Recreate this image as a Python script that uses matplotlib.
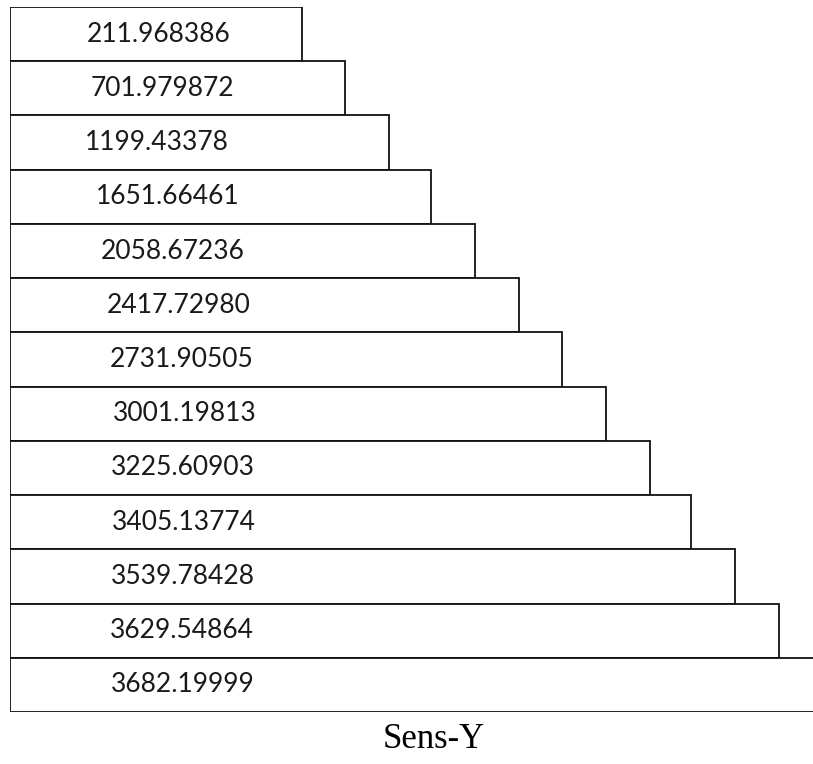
import matplotlib
matplotlib.use("Agg")
import matplotlib.pyplot as plt

# Sensitivity values along Y, one per stacked step
sens_values = [211.968386, 701.979872, 1199.43378, 1651.66461, 2058.67236,
               2417.72980, 2731.90505, 3001.19813, 3225.60903, 3405.13774,
               3539.78428, 3629.54864, 3682.19999]
# Drawn length of each step box (layout units)
step_lengths = [292, 335, 379, 421, 465, 509, 552, 596, 640, 681, 725, 769, 820]
# Horizontal centre of each value label (layout units)
label_x = [149, 152, 147, 158, 163, 169, 172, 175, 173, 174, 173, 172, 173]
title = "Sens-Y"

W, H = 813, 764
fig = plt.figure(figsize=(W / 100, H / 100), dpi=100)
fig.patch.set_facecolor("white")

ax = fig.add_axes([10 / W, (H - 712) / H, (W - 10) / W, 705 / H])
rows = list(range(len(sens_values)))
ax.barh(rows, step_lengths, height=1.0, left=0, color="white",
        edgecolor="#111111", linewidth=1.3)
for r, v, lx in zip(rows, sens_values, label_x):
    ax.text(lx, r, f"{v:#.9g}", ha="center", va="center",
            fontsize=19, family="Lato", color="#1a1a1a")

ax.set_xlim(0, W - 10)
ax.set_ylim(len(rows) - 0.5, -0.5)
ax.axis("off")

fig.text(434 / W, 1 - 740 / H, title, ha="center", va="center",
         fontsize=25, family="Liberation Serif", color="black")

fig.savefig("out.png", dpi=100)
